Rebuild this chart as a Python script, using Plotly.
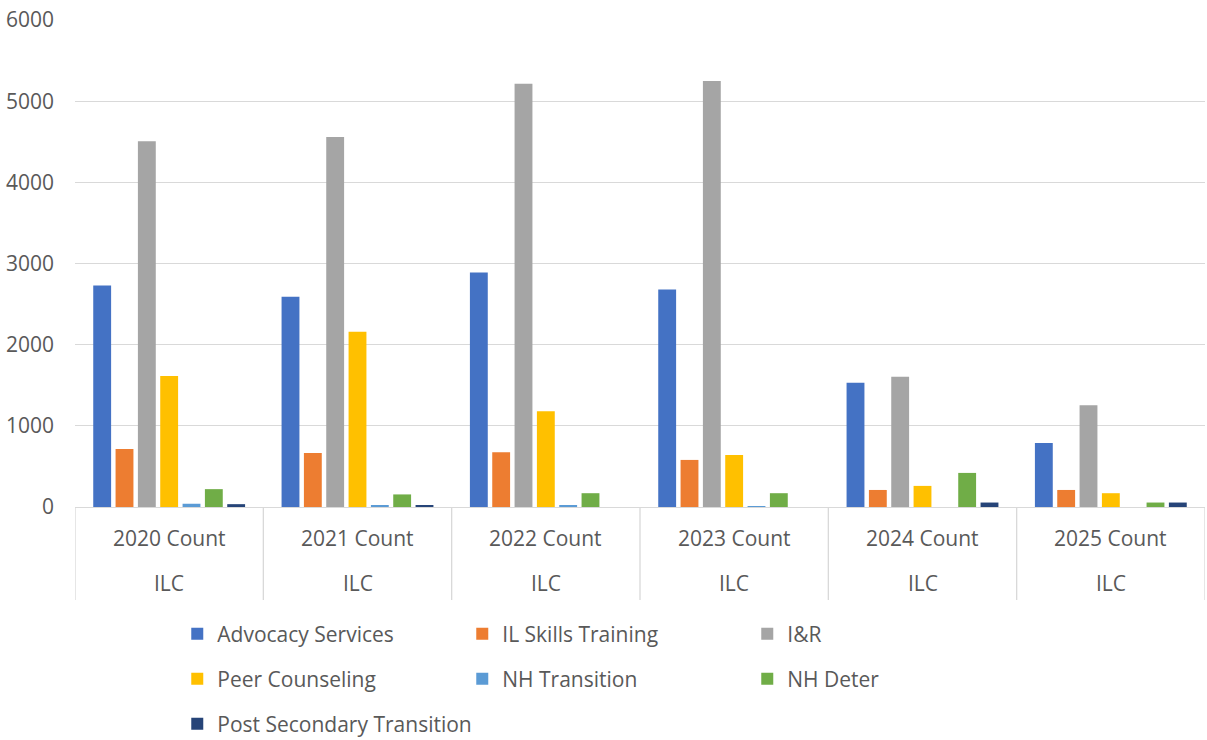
import plotly.graph_objects as go

categories = ["2020 Count", "2021 Count", "2022 Count", "2023 Count", "2024 Count", "2025 Count"]
group_label = "ILC"

advocacy = [2730, 2590, 2890, 2680, 1530, 790]
il_skills = [715, 665, 675, 580, 210, 210]
i_and_r = [4505, 4560, 5215, 5250, 1605, 1255]
peer = [1615, 2160, 1180, 640, 260, 170]
nh_transition = [40, 20, 15, 10, 0, 0]
nh_deter = [220, 155, 170, 170, 420, 55]
post_secondary = [35, 20, 0, 0, 55, 55]

series = [
    ("Advocacy Services", advocacy, "#4472C4"),
    ("IL Skills Training", il_skills, "#ED7D31"),
    ("I&R", i_and_r, "#A5A5A5"),
    ("Peer Counseling", peer, "#FFC000"),
    ("NH Transition", nh_transition, "#5B9BD5"),
    ("NH Deter", nh_deter, "#70AD47"),
    ("Post Secondary Transition", post_secondary, "#264478"),
]

FONT = "Open Sans"
GRAY = "#595959"
GRID = "#D9D9D9"
FS = 21

legend_ids = ["legend", "legend", "legend", "legend2", "legend2", "legend2", "legend3"]

fig = go.Figure()
for (name, vals, col), lg in zip(series, legend_ids):
    fig.add_trace(go.Bar(name=name, x=categories, y=vals, legend=lg,
                         marker=dict(color=col, line=dict(width=0))))

shapes = []
for i in range(len(categories) + 1):
    shapes.append(dict(type="line", xref="x", yref="paper", x0=i - 0.5, x1=i - 0.5,
                       y0=0, y1=-0.191, line=dict(color=GRID, width=1.3)))
annotations = []
for i, c in enumerate(categories):
    annotations.append(dict(x=c, xref="x", y=-0.064, yref="paper", yanchor="middle", text=c,
                            showarrow=False, font=dict(family=FONT, size=FS, color=GRAY)))
    annotations.append(dict(x=c, xref="x", y=-0.156, yref="paper", yanchor="middle", text=group_label,
                            showarrow=False, font=dict(family=FONT, size=FS, color=GRAY)))

def legend_cfg(yc, ew=240):
    return dict(orientation="h", x=0.0905, xanchor="left", y=yc, yanchor="middle",
                entrywidth=ew, entrywidthmode="pixels", traceorder="normal",
                bgcolor="rgba(0,0,0,0)",
                font=dict(family=FONT, size=FS, color=GRAY))

fig.update_layout(
    width=1207, height=740,
    margin=dict(l=75, r=2, t=20, b=233, autoexpand=False),
    paper_bgcolor="white", plot_bgcolor="white",
    barmode="group", bargap=0.17, bargroupgap=0.2,
    font=dict(family=FONT, size=FS, color=GRAY),
    shapes=shapes, annotations=annotations,
    xaxis=dict(showticklabels=False, showgrid=False, zeroline=False, showline=False,
               range=[-0.5, len(categories) - 0.5], automargin=False),
    yaxis=dict(range=[0, 6000], dtick=1000, showgrid=True, gridcolor=GRID, gridwidth=1.3,
               zeroline=True, zerolinecolor=GRID, zerolinewidth=1.3, showline=False,
               automargin=False,
               tickfont=dict(family=FONT, size=FS, color=GRAY), ticklabelstandoff=20),
    legend=legend_cfg(-0.2608),
    legend2=legend_cfg(-0.3532),
    legend3=legend_cfg(-0.4456, ew=420),
    showlegend=True,
)

fig.write_html("out.html", config={"displayModeBar": False},
               post_script="document.body.style.margin='0';document.body.style.overflow='hidden';")
